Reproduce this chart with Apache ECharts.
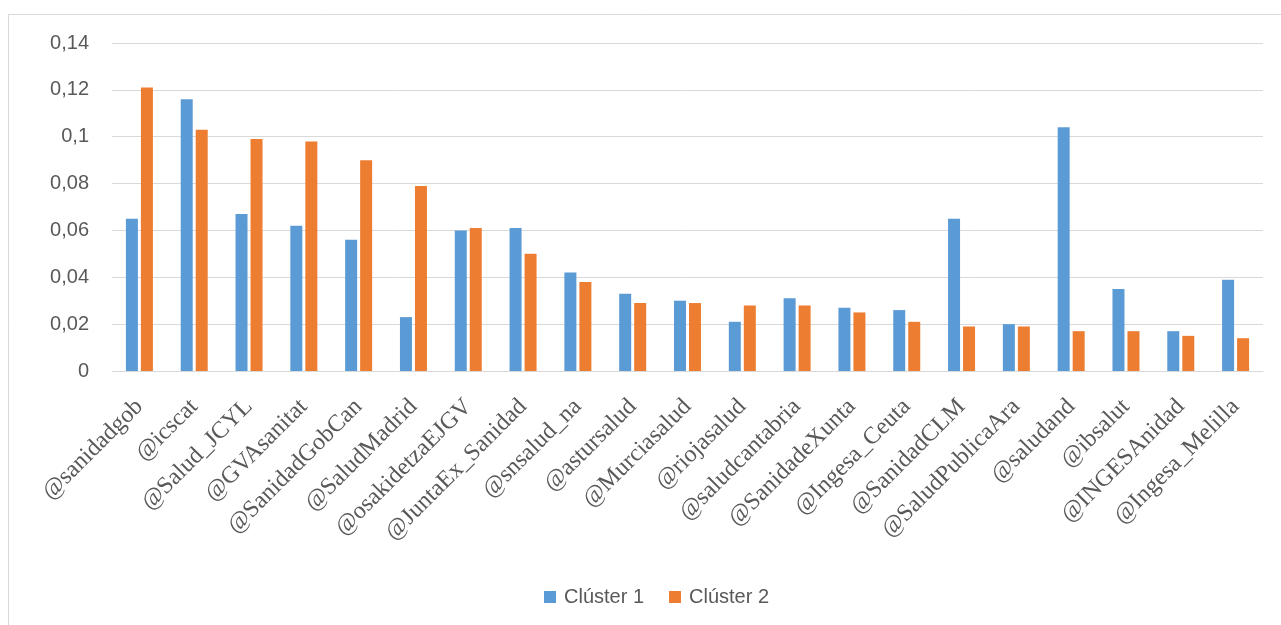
<!DOCTYPE html>
<html>
<head>
<meta charset="utf-8">
<script src="https://cdn.jsdelivr.net/npm/echarts@6/dist/echarts.min.js"></script>
<style>html,body{margin:0;padding:0;background:#fff;}#c{width:1281px;height:625px;}</style>
</head>
<body>
<div id="c"></div>
<script>
var categories = ['@sanidadgob','@icscat','@Salud_JCYL','@GVAsanitat','@SanidadGobCan','@SaludMadrid','@osakidetzaEJGV','@JuntaEx_Sanidad','@snsalud_na','@astursalud','@Murciasalud','@riojasalud','@saludcantabria','@SanidadeXunta','@Ingesa_Ceuta','@SanidadCLM','@SaludPublicaAra','@saludand','@ibsalut','@INGESAnidad','@Ingesa_Melilla'];
var cluster1 = [0.065,0.116,0.067,0.062,0.056,0.023,0.060,0.061,0.042,0.033,0.030,0.021,0.031,0.027,0.026,0.065,0.020,0.104,0.035,0.017,0.039];
var cluster2 = [0.121,0.103,0.099,0.098,0.090,0.079,0.061,0.050,0.038,0.029,0.029,0.028,0.028,0.025,0.021,0.019,0.019,0.017,0.017,0.015,0.014];
var seriesNames = ['Clúster 1','Clúster 2'];

var chart = echarts.init(document.getElementById('c'));
chart.setOption({
  animation: false,
  backgroundColor: '#ffffff',
  graphic: [{
    type: 'rect',
    shape: {x: 8.5, y: 14.5, width: 1400, height: 800},
    style: {fill: 'none', stroke: '#d9d9d9', lineWidth: 1},
    silent: true
  }],
  grid: {left: 112, right: 18, top: 43, bottom: 254, containLabel: false},
  legend: {
    left: 539, top: 582,
    itemWidth: 12, itemHeight: 12, itemGap: 25,
    icon: 'rect',
    textStyle: {fontFamily: 'Liberation Sans', fontSize: 20, color: '#595959', padding: [0,0,0,3]},
    data: seriesNames
  },
  xAxis: {
    type: 'category',
    data: categories,
    axisLine: {lineStyle: {color: '#d9d9d9', width: 1}},
    axisTick: {show: false},
    axisLabel: {
      interval: 0, rotate: 45, margin: 32,
      fontFamily: 'Liberation Serif', fontSize: 24, color: '#595959'
    }
  },
  yAxis: {
    type: 'value', min: 0, max: 0.14, interval: 0.02,
    axisLine: {show: false}, axisTick: {show: false},
    splitLine: {lineStyle: {color: '#d9d9d9', width: 1}},
    axisLabel: {
      margin: 23, fontFamily: 'Liberation Sans', fontSize: 20, color: '#595959',
      formatter: function (v) { return String(+v.toFixed(2)).replace('.', ','); }
    }
  },
  series: [
    {name: seriesNames[0], type: 'bar', data: cluster1, barWidth: 12, barGap: '25%', itemStyle: {color: '#5B9BD5'}},
    {name: seriesNames[1], type: 'bar', data: cluster2, barWidth: 12, barGap: '25%', itemStyle: {color: '#ED7D31'}}
  ]
});
</script>
</body>
</html>
